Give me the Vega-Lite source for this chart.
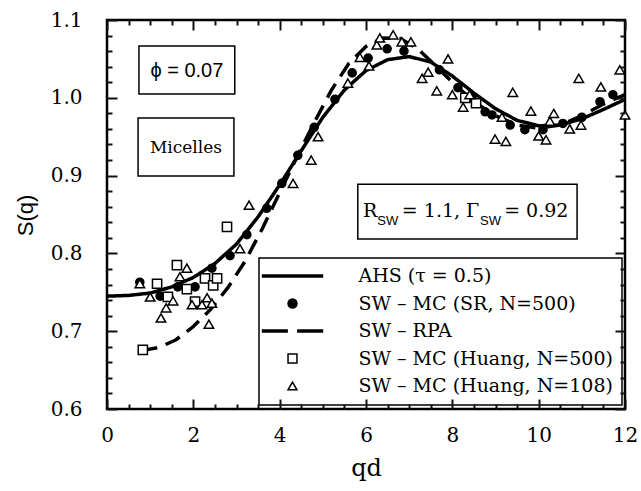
{
  "$schema": "https://vega.github.io/schema/vega-lite/v6.json",
  "width": 518,
  "height": 389,
  "autosize": {"type": "none"},
  "padding": {"left": 107, "top": 20, "right": 16, "bottom": 82},
  "background": "white",
  "config": {
    "view": {"stroke": "black", "strokeWidth": 2.5},
    "legend": {
      "orient": "none",
      "legendX": 152,
      "legendY": 238,
      "rowPadding": 7.5,
      "padding": 8.5,
      "labelFont": "DejaVu Serif",
      "labelFontSize": 19,
      "labelColor": "black",
      "labelLimit": 500,
      "labelOffset": 56.5,
      "symbolOffset": 15.5,
      "symbolSize": 80,
      "symbolStrokeWidth": 1.5,
      "symbolStrokeColor": "black",
      "symbolOpacity": 1,
      "strokeColor": "black",
      "strokeWidth": 1.5,
      "fillColor": "white"
    }
  },
  "datasets": {
    "curves": [
      {"series": "AHS (τ = 0.5)", "qd": 0, "S": 0.745},
      {"series": "AHS (τ = 0.5)", "qd": 0.5, "S": 0.746},
      {"series": "AHS (τ = 0.5)", "qd": 1, "S": 0.749},
      {"series": "AHS (τ = 0.5)", "qd": 1.5, "S": 0.757},
      {"series": "AHS (τ = 0.5)", "qd": 2, "S": 0.769},
      {"series": "AHS (τ = 0.5)", "qd": 2.5, "S": 0.787},
      {"series": "AHS (τ = 0.5)", "qd": 3, "S": 0.812},
      {"series": "AHS (τ = 0.5)", "qd": 3.5, "S": 0.847},
      {"series": "AHS (τ = 0.5)", "qd": 4, "S": 0.888},
      {"series": "AHS (τ = 0.5)", "qd": 4.5, "S": 0.932},
      {"series": "AHS (τ = 0.5)", "qd": 5, "S": 0.975},
      {"series": "AHS (τ = 0.5)", "qd": 5.5, "S": 1.010},
      {"series": "AHS (τ = 0.5)", "qd": 6, "S": 1.035},
      {"series": "AHS (τ = 0.5)", "qd": 6.5, "S": 1.049},
      {"series": "AHS (τ = 0.5)", "qd": 7, "S": 1.053},
      {"series": "AHS (τ = 0.5)", "qd": 7.5, "S": 1.046},
      {"series": "AHS (τ = 0.5)", "qd": 8, "S": 1.028},
      {"series": "AHS (τ = 0.5)", "qd": 8.5, "S": 1.006},
      {"series": "AHS (τ = 0.5)", "qd": 9, "S": 0.986},
      {"series": "AHS (τ = 0.5)", "qd": 9.5, "S": 0.971},
      {"series": "AHS (τ = 0.5)", "qd": 10, "S": 0.964},
      {"series": "AHS (τ = 0.5)", "qd": 10.5, "S": 0.965},
      {"series": "AHS (τ = 0.5)", "qd": 11, "S": 0.973},
      {"series": "AHS (τ = 0.5)", "qd": 11.5, "S": 0.985},
      {"series": "AHS (τ = 0.5)", "qd": 12, "S": 0.998},
      {"series": "SW – RPA", "qd": 0.8, "S": 0.675},
      {"series": "SW – RPA", "qd": 1.2, "S": 0.679},
      {"series": "SW – RPA", "qd": 1.6, "S": 0.689},
      {"series": "SW – RPA", "qd": 2.0, "S": 0.706},
      {"series": "SW – RPA", "qd": 2.4, "S": 0.728},
      {"series": "SW – RPA", "qd": 2.8, "S": 0.756},
      {"series": "SW – RPA", "qd": 3.2, "S": 0.790},
      {"series": "SW – RPA", "qd": 3.6, "S": 0.832},
      {"series": "SW – RPA", "qd": 4.0, "S": 0.878},
      {"series": "SW – RPA", "qd": 4.4, "S": 0.924},
      {"series": "SW – RPA", "qd": 4.8, "S": 0.968},
      {"series": "SW – RPA", "qd": 5.2, "S": 1.010},
      {"series": "SW – RPA", "qd": 5.6, "S": 1.044},
      {"series": "SW – RPA", "qd": 6.0, "S": 1.066},
      {"series": "SW – RPA", "qd": 6.4, "S": 1.077},
      {"series": "SW – RPA", "qd": 6.8, "S": 1.076},
      {"series": "SW – RPA", "qd": 7.2, "S": 1.063},
      {"series": "SW – RPA", "qd": 7.6, "S": 1.042},
      {"series": "SW – RPA", "qd": 8.0, "S": 1.020},
      {"series": "SW – RPA", "qd": 8.5, "S": 0.995},
      {"series": "SW – RPA", "qd": 9.0, "S": 0.977},
      {"series": "SW – RPA", "qd": 9.5, "S": 0.965},
      {"series": "SW – RPA", "qd": 10.0, "S": 0.961},
      {"series": "SW – RPA", "qd": 10.5, "S": 0.965},
      {"series": "SW – RPA", "qd": 11.0, "S": 0.977},
      {"series": "SW – RPA", "qd": 11.5, "S": 0.992},
      {"series": "SW – RPA", "qd": 12.0, "S": 1.004}
    ],
    "points": [
      {"series": "SW – MC (SR, N=500)", "qd": 0.76, "S": 0.763},
      {"series": "SW – MC (SR, N=500)", "qd": 1.23, "S": 0.745},
      {"series": "SW – MC (SR, N=500)", "qd": 1.64, "S": 0.757},
      {"series": "SW – MC (SR, N=500)", "qd": 2.04, "S": 0.757},
      {"series": "SW – MC (SR, N=500)", "qd": 2.43, "S": 0.781},
      {"series": "SW – MC (SR, N=500)", "qd": 2.85, "S": 0.797},
      {"series": "SW – MC (SR, N=500)", "qd": 3.24, "S": 0.824},
      {"series": "SW – MC (SR, N=500)", "qd": 3.7, "S": 0.858},
      {"series": "SW – MC (SR, N=500)", "qd": 4.05, "S": 0.89},
      {"series": "SW – MC (SR, N=500)", "qd": 4.42, "S": 0.926},
      {"series": "SW – MC (SR, N=500)", "qd": 4.8, "S": 0.962},
      {"series": "SW – MC (SR, N=500)", "qd": 5.28, "S": 0.998},
      {"series": "SW – MC (SR, N=500)", "qd": 5.68, "S": 1.032},
      {"series": "SW – MC (SR, N=500)", "qd": 6.05, "S": 1.051},
      {"series": "SW – MC (SR, N=500)", "qd": 6.49, "S": 1.063},
      {"series": "SW – MC (SR, N=500)", "qd": 6.88, "S": 1.06},
      {"series": "SW – MC (SR, N=500)", "qd": 7.7, "S": 1.036},
      {"series": "SW – MC (SR, N=500)", "qd": 8.13, "S": 1.013},
      {"series": "SW – MC (SR, N=500)", "qd": 8.45, "S": 1.0},
      {"series": "SW – MC (SR, N=500)", "qd": 8.76, "S": 0.982},
      {"series": "SW – MC (SR, N=500)", "qd": 8.92, "S": 0.978},
      {"series": "SW – MC (SR, N=500)", "qd": 9.34, "S": 0.965},
      {"series": "SW – MC (SR, N=500)", "qd": 9.68, "S": 0.959},
      {"series": "SW – MC (SR, N=500)", "qd": 10.1, "S": 0.959},
      {"series": "SW – MC (SR, N=500)", "qd": 10.56, "S": 0.967},
      {"series": "SW – MC (SR, N=500)", "qd": 11.0, "S": 0.975},
      {"series": "SW – MC (SR, N=500)", "qd": 11.42, "S": 0.995},
      {"series": "SW – MC (SR, N=500)", "qd": 11.72, "S": 1.004},
      {"series": "SW – MC (Huang, N=500)", "qd": 0.83, "S": 0.676},
      {"series": "SW – MC (Huang, N=500)", "qd": 1.16, "S": 0.761},
      {"series": "SW – MC (Huang, N=500)", "qd": 1.41, "S": 0.744},
      {"series": "SW – MC (Huang, N=500)", "qd": 1.62, "S": 0.785},
      {"series": "SW – MC (Huang, N=500)", "qd": 1.85, "S": 0.754},
      {"series": "SW – MC (Huang, N=500)", "qd": 2.04, "S": 0.738},
      {"series": "SW – MC (Huang, N=500)", "qd": 2.27, "S": 0.768},
      {"series": "SW – MC (Huang, N=500)", "qd": 2.46, "S": 0.759},
      {"series": "SW – MC (Huang, N=500)", "qd": 2.55, "S": 0.768},
      {"series": "SW – MC (Huang, N=500)", "qd": 2.78, "S": 0.834},
      {"series": "SW – MC (Huang, N=500)", "qd": 8.3, "S": 1.0},
      {"series": "SW – MC (Huang, N=500)", "qd": 8.55, "S": 0.993},
      {"series": "SW – MC (Huang, N=108)", "qd": 0.76, "S": 0.761},
      {"series": "SW – MC (Huang, N=108)", "qd": 1.0, "S": 0.744},
      {"series": "SW – MC (Huang, N=108)", "qd": 1.25, "S": 0.717},
      {"series": "SW – MC (Huang, N=108)", "qd": 1.37, "S": 0.73},
      {"series": "SW – MC (Huang, N=108)", "qd": 1.53, "S": 0.739},
      {"series": "SW – MC (Huang, N=108)", "qd": 1.69, "S": 0.77},
      {"series": "SW – MC (Huang, N=108)", "qd": 1.85, "S": 0.781},
      {"series": "SW – MC (Huang, N=108)", "qd": 1.97, "S": 0.734},
      {"series": "SW – MC (Huang, N=108)", "qd": 2.2, "S": 0.734},
      {"series": "SW – MC (Huang, N=108)", "qd": 2.32, "S": 0.743},
      {"series": "SW – MC (Huang, N=108)", "qd": 2.36, "S": 0.709},
      {"series": "SW – MC (Huang, N=108)", "qd": 2.43, "S": 0.736},
      {"series": "SW – MC (Huang, N=108)", "qd": 3.08, "S": 0.806},
      {"series": "SW – MC (Huang, N=108)", "qd": 3.29, "S": 0.862},
      {"series": "SW – MC (Huang, N=108)", "qd": 4.31, "S": 0.89},
      {"series": "SW – MC (Huang, N=108)", "qd": 4.73, "S": 0.92},
      {"series": "SW – MC (Huang, N=108)", "qd": 4.89, "S": 0.95},
      {"series": "SW – MC (Huang, N=108)", "qd": 5.58, "S": 1.019},
      {"series": "SW – MC (Huang, N=108)", "qd": 5.86, "S": 1.052},
      {"series": "SW – MC (Huang, N=108)", "qd": 6.07, "S": 1.041},
      {"series": "SW – MC (Huang, N=108)", "qd": 6.25, "S": 1.068},
      {"series": "SW – MC (Huang, N=108)", "qd": 6.32, "S": 1.077},
      {"series": "SW – MC (Huang, N=108)", "qd": 6.63, "S": 1.081},
      {"series": "SW – MC (Huang, N=108)", "qd": 6.83, "S": 1.072},
      {"series": "SW – MC (Huang, N=108)", "qd": 7.04, "S": 1.072},
      {"series": "SW – MC (Huang, N=108)", "qd": 7.3, "S": 1.025},
      {"series": "SW – MC (Huang, N=108)", "qd": 7.44, "S": 1.033},
      {"series": "SW – MC (Huang, N=108)", "qd": 7.64, "S": 1.009},
      {"series": "SW – MC (Huang, N=108)", "qd": 7.9, "S": 1.05},
      {"series": "SW – MC (Huang, N=108)", "qd": 8.0, "S": 1.004},
      {"series": "SW – MC (Huang, N=108)", "qd": 8.25, "S": 0.988},
      {"series": "SW – MC (Huang, N=108)", "qd": 8.4, "S": 1.004},
      {"series": "SW – MC (Huang, N=108)", "qd": 8.99, "S": 0.947},
      {"series": "SW – MC (Huang, N=108)", "qd": 9.15, "S": 0.975},
      {"series": "SW – MC (Huang, N=108)", "qd": 9.24, "S": 0.944},
      {"series": "SW – MC (Huang, N=108)", "qd": 9.4, "S": 1.007},
      {"series": "SW – MC (Huang, N=108)", "qd": 9.82, "S": 0.983},
      {"series": "SW – MC (Huang, N=108)", "qd": 10.0, "S": 0.951},
      {"series": "SW – MC (Huang, N=108)", "qd": 10.17, "S": 0.946},
      {"series": "SW – MC (Huang, N=108)", "qd": 10.26, "S": 0.97},
      {"series": "SW – MC (Huang, N=108)", "qd": 10.35, "S": 0.98},
      {"series": "SW – MC (Huang, N=108)", "qd": 10.72, "S": 0.96},
      {"series": "SW – MC (Huang, N=108)", "qd": 10.98, "S": 0.965},
      {"series": "SW – MC (Huang, N=108)", "qd": 10.93, "S": 1.025},
      {"series": "SW – MC (Huang, N=108)", "qd": 11.44, "S": 1.014},
      {"series": "SW – MC (Huang, N=108)", "qd": 11.88, "S": 1.036},
      {"series": "SW – MC (Huang, N=108)", "qd": 12.0, "S": 0.978}
    ]
  },
  "resolve": {"axis": {"x": "independent", "y": "independent"}},
  "layer": [
    {
      "data": {"name": "curves"},
      "mark": {"type": "line", "color": "black", "strokeWidth": 3.5, "clip": true},
      "encoding": {
        "x": {
          "field": "qd", "type": "quantitative",
          "scale": {"domain": [0, 12], "nice": false, "zero": false},
          "axis": {
            "orient": "bottom",
            "values": [0, 2, 4, 6, 8, 10, 12],
            "format": "d",
            "domain": false, "gridOpacity": 0,
            "offset": -10, "tickSize": 10, "tickColor": "#111111", "tickWidth": 2, "zindex": 2,
            "labelFlush": false,
            "labelFont": "DejaVu Serif", "labelFontSize": 20, "labelColor": "black",
            "labelPadding": 16,
            "title": "qd", "titleFont": "DejaVu Serif", "titleFontSize": 24, "titleColor": "black",
            "titleFontWeight": "normal", "titleBaseline": "middle", "titleY": 69
          }
        },
        "y": {
          "field": "S", "type": "quantitative",
          "scale": {"domain": [0.6, 1.1], "nice": false, "zero": false},
          "axis": {
            "orient": "left",
            "values": [0.6, 0.7, 0.8, 0.9, 1.0, 1.1],
            "format": ".1f",
            "domain": false, "gridOpacity": 0,
            "offset": -10, "tickSize": 10, "tickColor": "#111111", "tickWidth": 2, "zindex": 2,
            "labelFont": "DejaVu Serif", "labelFontSize": 20, "labelColor": "black",
            "labelPadding": 25,
            "title": "S(q)", "titleFont": "Liberation Sans", "titleFontSize": 22, "titleColor": "black",
            "titleFontWeight": "normal", "titleBaseline": "middle", "titleAlign": "center",
            "titleX": -92, "titleY": 195
          }
        },
        "strokeDash": {
          "field": "series", "type": "nominal",
          "scale": {"domain": ["AHS (τ = 0.5)", "SW – RPA"], "range": [[1, 0], [16, 9]]},
          "legend": null
        }
      }
    },
    {
      "data": {"name": "points"},
      "mark": {"type": "point", "filled": true, "stroke": "black", "strokeWidth": 1.5, "opacity": 1},
      "encoding": {
        "x": {
          "field": "qd", "type": "quantitative",
          "axis": {"orient": "top", "values": [0, 2, 4, 6, 8, 10, 12], "labels": false, "title": null, "domain": false, "gridOpacity": 0, "offset": -10, "tickSize": 10, "tickColor": "#111111", "tickWidth": 2, "zindex": 2}
        },
        "y": {
          "field": "S", "type": "quantitative",
          "axis": {"orient": "right", "values": [0.6, 0.7, 0.8, 0.9, 1.0, 1.1], "labels": false, "title": null, "domain": false, "gridOpacity": 0, "offset": -10, "tickSize": 10, "tickColor": "#111111", "tickWidth": 2, "zindex": 2}
        },
        "shape": {
          "field": "series", "type": "nominal",
          "scale": {
            "domain": ["AHS (τ = 0.5)", "SW – MC (SR, N=500)", "SW – RPA", "SW – MC (Huang, N=500)", "SW – MC (Huang, N=108)"],
            "range": ["M-6.7,-0.25H6.7V0.25H-6.7Z", "circle", "M-6.7,-0.25H-1.2V0.25H-6.7Z M1.2,-0.25H6.7V0.25H1.2Z", "square", "triangle-up"]
          },
          "legend": {
            "title": null,
            "encode": {"symbols": {"update": {"stroke": {"value": "black"}, "strokeWidth": {"value": 1.5}, "opacity": {"value": 1}}}}
          }
        },
        "fill": {
          "field": "series", "type": "nominal",
          "scale": {
            "domain": ["AHS (τ = 0.5)", "SW – MC (SR, N=500)", "SW – RPA", "SW – MC (Huang, N=500)", "SW – MC (Huang, N=108)"],
            "range": ["black", "black", "black", "white", "white"]
          },
          "legend": {
            "title": null,
            "encode": {"symbols": {"update": {"stroke": {"value": "black"}, "strokeWidth": {"value": 1.5}, "opacity": {"value": 1}}}}
          }
        },
        "size": {
          "field": "series", "type": "nominal",
          "scale": {
            "type": "ordinal",
            "domain": ["SW – MC (SR, N=500)", "SW – MC (Huang, N=500)", "SW – MC (Huang, N=108)"],
            "range": [65, 85, 90]
          },
          "legend": null
        }
      }
    },
    {
      "data": {"values": [{}]},
      "mark": {"type": "rect", "fill": null, "fillOpacity": 0, "stroke": "black", "strokeWidth": 1.5},
      "encoding": {
        "x": {
          "datum": 0.74, "type": "quantitative",
          "axis": {"orient": "bottom", "values": [0.5,1,1.5,2.5,3,3.5,4.5,5,5.5,6.5,7,7.5,8.5,9,9.5,10.5,11,11.5], "labels": false, "title": null, "domain": false, "gridOpacity": 0, "offset": -5, "tickSize": 5, "tickColor": "#111111", "tickWidth": 2, "zindex": 2}
        },
        "x2": {"datum": 2.96},
        "y": {
          "datum": 1.0666, "type": "quantitative",
          "axis": {"orient": "left", "values": [0.62,0.64,0.66,0.68,0.72,0.74,0.76,0.78,0.82,0.84,0.86,0.88,0.92,0.94,0.96,0.98,1.02,1.04,1.06,1.08], "labels": false, "title": null, "domain": false, "gridOpacity": 0, "offset": -5, "tickSize": 5, "tickColor": "#111111", "tickWidth": 2, "zindex": 2}
        },
        "y2": {"datum": 1.005}
      }
    },
    {
      "data": {"values": [{}]},
      "mark": {"type": "rect", "fill": null, "fillOpacity": 0, "stroke": "black", "strokeWidth": 1.5},
      "encoding": {
        "x": {
          "datum": 0.72, "type": "quantitative",
          "axis": {"orient": "top", "values": [0.5,1,1.5,2.5,3,3.5,4.5,5,5.5,6.5,7,7.5,8.5,9,9.5,10.5,11,11.5], "labels": false, "title": null, "domain": false, "gridOpacity": 0, "offset": -5, "tickSize": 5, "tickColor": "#111111", "tickWidth": 2, "zindex": 2}
        },
        "x2": {"datum": 2.94},
        "y": {
          "datum": 0.974, "type": "quantitative",
          "axis": {"orient": "right", "values": [0.62,0.64,0.66,0.68,0.72,0.74,0.76,0.78,0.82,0.84,0.86,0.88,0.92,0.94,0.96,0.98,1.02,1.04,1.06,1.08], "labels": false, "title": null, "domain": false, "gridOpacity": 0, "offset": -5, "tickSize": 5, "tickColor": "#111111", "tickWidth": 2, "zindex": 2}
        },
        "y2": {"datum": 0.8995}
      }
    },
    {
      "data": {"values": [{}]},
      "mark": {"type": "rect", "fill": null, "fillOpacity": 0, "stroke": "black", "strokeWidth": 1.5},
      "encoding": {
        "x": {"datum": 5.81, "type": "quantitative", "axis": null},
        "x2": {"datum": 10.89},
        "y": {"datum": 0.889, "type": "quantitative", "axis": null},
        "y2": {"datum": 0.8185}
      }
    },
    {
      "data": {"values": [{}]},
      "mark": {"type": "text", "text": "ϕ = 0.07", "font": "Liberation Sans", "fontSize": 20, "align": "center", "baseline": "middle", "color": "black"},
      "encoding": {
        "x": {"datum": 1.85, "type": "quantitative", "axis": null},
        "y": {"datum": 1.034, "type": "quantitative", "axis": null}
      }
    },
    {
      "data": {"values": [{}]},
      "mark": {"type": "text", "text": "Micelles", "font": "DejaVu Serif", "fontSize": 17, "align": "center", "baseline": "middle", "color": "black"},
      "encoding": {
        "x": {"datum": 1.83, "type": "quantitative", "axis": null},
        "y": {"datum": 0.935, "type": "quantitative", "axis": null}
      }
    },
    {
      "data": {"values": [{}]},
      "mark": {"type": "text", "text": "R", "font": "DejaVu Serif", "fontSize": 19, "align": "left", "baseline": "alphabetic", "color": "black"},
      "encoding": {
        "x": {"datum": 5.93, "type": "quantitative", "axis": null},
        "y": {"datum": 0.847, "type": "quantitative", "axis": null}
      }
    },
    {
      "data": {"values": [{}]},
      "mark": {"type": "text", "text": "SW", "font": "Liberation Sans", "fontSize": 13, "align": "left", "baseline": "alphabetic", "color": "black"},
      "encoding": {
        "x": {"datum": 6.26, "type": "quantitative", "axis": null},
        "y": {"datum": 0.8365, "type": "quantitative", "axis": null}
      }
    },
    {
      "data": {"values": [{}]},
      "mark": {"type": "text", "text": "= 1.1, Γ", "font": "DejaVu Serif", "fontSize": 19, "align": "left", "baseline": "alphabetic", "color": "black"},
      "encoding": {
        "x": {"datum": 6.83, "type": "quantitative", "axis": null},
        "y": {"datum": 0.847, "type": "quantitative", "axis": null}
      }
    },
    {
      "data": {"values": [{}]},
      "mark": {"type": "text", "text": "SW", "font": "Liberation Sans", "fontSize": 13, "align": "left", "baseline": "alphabetic", "color": "black"},
      "encoding": {
        "x": {"datum": 8.64, "type": "quantitative", "axis": null},
        "y": {"datum": 0.8365, "type": "quantitative", "axis": null}
      }
    },
    {
      "data": {"values": [{}]},
      "mark": {"type": "text", "text": "=  0.92", "font": "DejaVu Serif", "fontSize": 19, "align": "left", "baseline": "alphabetic", "color": "black"},
      "encoding": {
        "x": {"datum": 9.2, "type": "quantitative", "axis": null},
        "y": {"datum": 0.847, "type": "quantitative", "axis": null}
      }
    }
  ]
}
